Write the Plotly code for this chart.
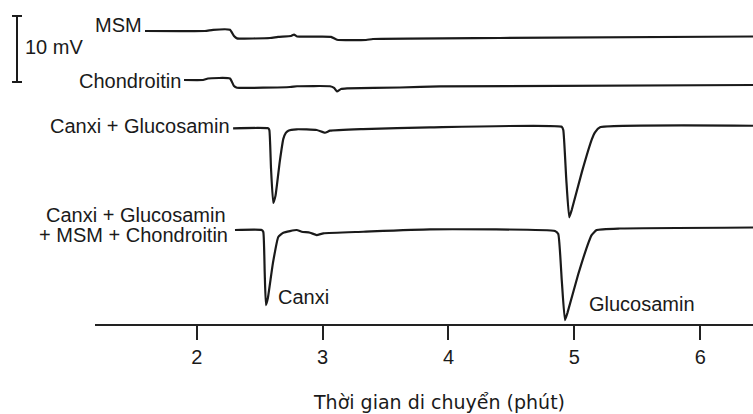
import plotly.graph_objects as go

# Migration time (min) and detector signal (mV, relative to each trace's baseline)
msm_t = [1.589, 2.066, 2.13, 2.264, 2.296, 2.32, 2.582, 2.646, 2.749, 2.773, 2.797,
         3.067, 3.114, 3.345, 3.40, 4.409, 6.419]
msm_mv = [0, 0, 0.18, 0.18, -0.76, -1.11, -1.06, -0.88, -0.76, -0.53, -0.83,
          -0.88, -1.33, -1.36, -1.21, -1.06, -0.83]

chon_t = [1.899, 2.05, 2.09, 2.264, 2.296, 2.32, 2.741, 2.797, 3.059, 3.091, 3.114,
          3.146, 3.194, 3.615, 3.933, 6.419]
chon_mv = [0, 0, 0.23, 0.23, -0.91, -1.17, -1.06, -0.95, -0.95, -1.21, -1.74,
           -1.36, -1.26, -1.14, -0.98, -0.76]

cg_t = [2.289, 2.567, 2.577, 2.590, 2.608, 2.626, 2.660, 2.688, 2.708, 2.728, 2.794,
        2.953, 3.019, 3.059, 3.321, 3.853, 4.899, 4.912, 4.935, 4.959, 4.980, 5.060,
        5.140, 5.164, 5.204, 6.419]
cg_mv = [0, 0, -0.26, -6.0, -11.32, -10.2, -5.0, -1.60, -0.70, -0.36, -0.15,
         -0.26, -0.67, -0.36, -0.11, 0.15, 0.24, -0.26, -7.5, -13.48, -12.3, -6.6,
         -1.6, -0.60, 0.15, 0.39]

mix_t = [2.304, 2.516, 2.529, 2.540, 2.55, 2.565, 2.605, 2.648, 2.688, 2.794, 2.834,
         2.9, 2.953, 3.006, 3.323, 3.853, 4.846, 4.872, 4.900, 4.925, 4.945, 5.030,
         5.115, 5.137, 5.177, 5.362, 6.419]
mix_mv = [-0.15, -0.15, -0.45, -6.5, -11.52, -10.5, -5.2, -1.20, -0.56, -0.15, -0.41,
          -0.56, -0.91, -0.65, -0.41, -0.05, -0.30, -0.76, -7.8, -13.79, -12.7, -6.9,
          -1.9, -0.91, -0.15, 0.08, 0.23]

# Vertical stacking offsets (mV) for each electropherogram
offsets = [44.39, 36.97, 29.65, 14.39]
trace_names = ["MSM", "Chondroitin", "Canxi + Glucosamin",
               "Canxi + Glucosamin + MSM + Chondroitin"]

# Label lines drawn at the left end of each trace
label_lines = ["MSM", "Chondroitin", "Canxi + Glucosamin",
               "Canxi + Glucosamin", "+ MSM + Chondroitin"]
label_t = [1.585, 1.889, 2.279, 2.248, 2.264]
label_mv = [45.3, 36.82, 29.97, 16.59, 13.41]

peak_names = ["Canxi", "Glucosamin"]
peak_label_t = [2.63, 5.10]
peak_label_mv = [4.02, 3.10]

x_ticks = [2, 3, 4, 5, 6]
x_range = [1.192, 6.419]
y_range = [0, 49.09]
scale_bar_mv = 10

ink = "#1a1a1a"
sans = "Liberation Sans, Arial, sans-serif"

fig = go.Figure()
series = [(msm_t, msm_mv), (chon_t, chon_mv), (cg_t, cg_mv), (mix_t, mix_mv)]
for (t, mv), off, name in zip(series, offsets, trace_names):
    fig.add_trace(go.Scatter(
        x=t, y=[v + off for v in mv], mode="lines", name=name,
        line=dict(color=ink, width=2.2, shape="spline", smoothing=0.4),
        showlegend=False, hoverinfo="skip",
    ))

for text, lt, lm in zip(label_lines, label_t, label_mv):
    fig.add_annotation(x=lt, y=lm, xref="x", yref="y", text=text, showarrow=False,
                       xanchor="right", yanchor="middle", align="right",
                       font=dict(family=sans, size=20, color=ink))

# Peak identification labels
for name, pt, pm in zip(peak_names, peak_label_t, peak_label_mv):
    fig.add_annotation(x=pt, y=pm, xref="x", yref="y", text=name, showarrow=False,
                       xanchor="left", yanchor="middle",
                       font=dict(family=sans, size=20, color=ink))

# 10 mV scale bar to the left of the plot
def ypaper(v):
    return (v - y_range[0]) / (y_range[1] - y_range[0])

bar_bottom = 36.67
bar_top = bar_bottom + scale_bar_mv
bar_x = -0.1185
cap = 0.0076
fig.add_shape(type="line", xref="paper", yref="paper", x0=bar_x, x1=bar_x,
              y0=ypaper(bar_bottom), y1=ypaper(bar_top), line=dict(color=ink, width=2))
for v in (bar_bottom, bar_top):
    fig.add_shape(type="line", xref="paper", yref="paper", x0=bar_x - cap, x1=bar_x + cap,
                  y0=ypaper(v), y1=ypaper(v), line=dict(color=ink, width=2))
fig.add_annotation(x=-0.1094, y=ypaper(41.97), xref="paper", yref="paper",
                   text=f"{scale_bar_mv} mV", showarrow=False, xanchor="left",
                   yanchor="middle", font=dict(family=sans, size=20, color=ink))

# Axis title
fig.add_annotation(x=0.523, y=-0.2407, xref="paper", yref="paper",
                   text="Thời gian di chuyển (phút)", showarrow=False,
                   xanchor="center", yanchor="middle",
                   font=dict(family="DejaVu Sans, sans-serif", size=19, color=ink))

fig.update_layout(
    width=753, height=414,
    margin=dict(l=95, r=0, t=0, b=90),
    paper_bgcolor="white", plot_bgcolor="white",
    xaxis=dict(range=x_range, tickvals=x_ticks, ticktext=[str(v) for v in x_ticks],
               showline=True, linecolor="#222222", linewidth=2,
               ticks="outside", ticklen=14, tickwidth=2, tickcolor="#222222",
               showgrid=False, zeroline=False,
               tickfont=dict(family=sans, size=20, color=ink)),
    yaxis=dict(range=y_range, visible=False, showgrid=False, zeroline=False),
)

fig.write_html("out.html")
